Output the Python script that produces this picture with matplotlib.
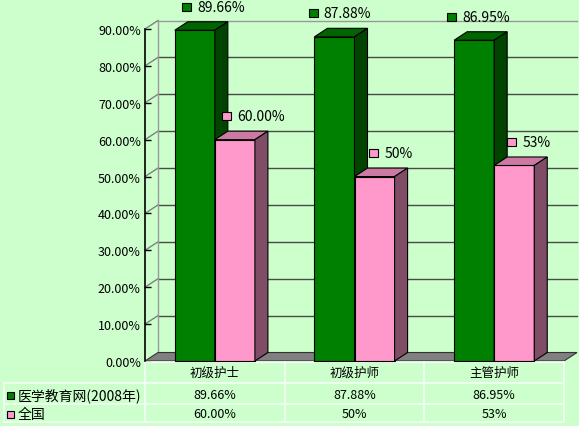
import matplotlib
matplotlib.use("Agg")
import matplotlib.pyplot as plt
import matplotlib.transforms as mtransforms
from matplotlib.patches import Rectangle, Polygon
from matplotlib.offsetbox import AnnotationBbox, HPacker, TextArea, DrawingArea

plt.rcParams['font.family'] = ['Noto Sans CJK SC', 'DejaVu Sans']
plt.rcParams['font.size'] = 9

# data
categories = ['初级护士', '初级护师', '主管护师']
series_names = ['医学教育网(2008年)', '全国']
site_values = [89.66, 87.88, 86.95]
national_values = [60.00, 50, 53]
site_text = ['89.66%', '87.88%', '86.95%']
national_text = ['60.00%', '50%', '53%']
yticks = [0, 10, 20, 30, 40, 50, 60, 70, 80, 90]

bg = '#CCFFCC'
colors = {
    'green': ('#008000', '#006400', '#004400'),
    'pink': ('#FF99CC', '#CC7AA3', '#804D66'),
}

W, H = 579, 427
fig = plt.figure(figsize=(W / 100, H / 100), dpi=100)
fig.patch.set_facecolor(bg)

# front plane of the 3d box
ax = fig.add_axes([145 / W, (H - 362) / H, 419 / W, 332 / H])
ax.set_xlim(-0.5, 2.5)
ax.set_ylim(0, 90)
ax.patch.set_alpha(0)
for s in ['top', 'right', 'bottom']:
    ax.spines[s].set_visible(False)
ax.spines['left'].set_linewidth(1.2)
ax.set_xticks([])
ax.set_yticks(yticks)
ax.set_yticklabels([f'{v:.2f}%' for v in yticks])
ax.tick_params(axis='y', direction='in', length=4, width=1, pad=3, labelsize=9)

# depth of the box in data units
dx = 13 * 3 / 419
dy = 8.5 * 90 / 332
x0, x1 = -0.5, 2.5

# back wall grid and edges
for v in yticks[1:]:
    col = '#999999' if v == 90 else '#4a4a4a'
    ax.plot([x0 + dx, x1 + dx], [v + dy, v + dy], color=col, lw=1, clip_on=False, zorder=1)
    ax.plot([x0, x0 + dx], [v, v + dy], color='#808080', lw=1, clip_on=False, zorder=1)
ax.plot([x0 + dx, x0 + dx], [dy, 90 + dy], color='#999999', lw=1, clip_on=False, zorder=1)

# floor
ax.add_patch(Polygon([(x0, 0), (x1, 0), (x1 + dx, dy), (x0 + dx, dy)], closed=True,
                     facecolor='#808080', edgecolor='#333333', lw=0.8, clip_on=False, zorder=2))

# bars
bw = 0.287
label_nudge = [[12, 12], [-1, 10], [-2, 8]]  # pixels
for i in range(len(categories)):
    for j, (vals, key, texts) in enumerate([(site_values, 'green', site_text),
                                             (national_values, 'pink', national_text)]):
        h = vals[i]
        left = i - bw + j * bw
        front, top, side = colors[key]
        ax.add_patch(Rectangle((left, 0), bw, h, facecolor=front, edgecolor='black',
                               lw=0.8, clip_on=False, zorder=3))
        ax.add_patch(Polygon([(left, h), (left + bw, h), (left + bw + dx, h + dy), (left + dx, h + dy)],
                             closed=True, facecolor=top, edgecolor='black', lw=0.8,
                             clip_on=False, zorder=3))
        ax.add_patch(Polygon([(left + bw, 0), (left + bw + dx, dy), (left + bw + dx, h + dy), (left + bw, h)],
                             closed=True, facecolor=side, edgecolor='black', lw=0.8,
                             clip_on=False, zorder=3))
        # data label with legend key
        da = DrawingArea(7, 6, 0, 0)
        da.add_artist(Rectangle((0, 0), 6.5, 6, facecolor=front, edgecolor='black', lw=0.8))
        ta = TextArea(texts[i], textprops=dict(size=10))
        box = HPacker(children=[da, ta], align='center', pad=0, sep=4)
        ab = AnnotationBbox(box, (left + bw / 2 + dx / 2, h + dy),
                            xybox=(label_nudge[i][j] * 0.72, 15 * 0.72),
                            boxcoords='offset points', frameon=False,
                            box_alignment=(0.5, 0.5), annotation_clip=False, zorder=5)
        ax.add_artist(ab)

# data table
tpix = mtransforms.Affine2D().scale(1 / W, -1 / H).translate(0, 1) + fig.transFigure
tcol = mtransforms.blended_transform_factory(ax.transData, tpix)
line_kw = dict(color='#F4FFF4', lw=1.2, clip_on=False)
ax.plot([x0, x1], [363, 363], transform=tcol, **line_kw)
for yy in [384, 405, 423]:
    fig.add_artist(plt.Line2D([4, 562], [yy, yy], transform=tpix, **line_kw))
for xx in [-0.5, 0.5, 1.5, 2.5]:
    ax.plot([xx, xx], [363, 423], transform=tcol, **line_kw)
fig.add_artist(plt.Line2D([4, 4], [384, 423], transform=tpix, **line_kw))

for i, c in enumerate(categories):
    ax.text(i, 373.5, c, transform=tcol, ha='center', va='center', fontsize=9)
    ax.text(i, 396, site_text[i], transform=tcol, ha='center', va='center', fontsize=9)
    ax.text(i, 415, national_text[i], transform=tcol, ha='center', va='center', fontsize=9)

for k, (name, key) in enumerate(zip(series_names, ['green', 'pink'])):
    yy = [396, 415][k]
    fig.add_artist(Rectangle((7, yy + 3.5), 7, -7, facecolor=colors[key][0], edgecolor='black',
                             lw=0.8, transform=tpix))
    fig.text(18 / W, 1 - yy / H, name, ha='left', va='center', fontsize=10)

fig.savefig('out.png', dpi=100, facecolor=bg)
